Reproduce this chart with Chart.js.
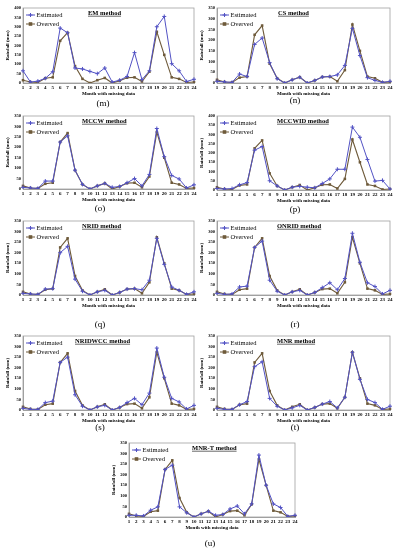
<!DOCTYPE html>
<html>
<head>
<meta charset="utf-8">
<script src="https://cdn.jsdelivr.net/npm/chart.js@4.4.0/dist/chart.umd.min.js"></script>
<style>
  body { margin: 0; background: #fff; width: 394px; height: 550px; position: relative; overflow: hidden; font-family: "Liberation Serif", serif; }
  .box { position: absolute; }
  .cap { position: absolute; font-size: 9px; transform: translateX(-50%); line-height: 10px; }
</style>
</head>
<body>
<script>
const months = ["1","2","3","4","5","6","7","8","9","10","11","12","13","14","15","16","17","18","19","20","21","22","23","24"];
const observed = [15, 5, 3, 25, 30, 225, 268, 90, 22, 0, 15, 27, 0, 12, 28, 30, 8, 60, 273, 150, 30, 22, 3, 5];

const estEM      = [65, 5, 10, 25, 60, 293, 268, 80, 75, 62, 50, 80, 5, 15, 35, 162, 18, 65, 300, 355, 103, 65, 8, 20];
const estCS      = [8, 5, 3, 42, 30, 180, 210, 95, 20, 0, 15, 27, 0, 12, 28, 30, 38, 82, 255, 128, 25, 12, 3, 8];
const estMCCW    = [8, 5, 3, 38, 38, 225, 255, 90, 22, 0, 15, 27, 8, 12, 30, 50, 15, 70, 290, 155, 65, 48, 5, 20];
const estMCCWID  = [8, 5, 8, 28, 40, 215, 235, 50, 22, 0, 15, 20, 15, 12, 35, 60, 112, 112, 340, 285, 165, 48, 52, 5];
const estNRID    = [8, 5, 3, 28, 30, 200, 230, 75, 18, 0, 15, 22, 0, 12, 28, 30, 25, 70, 268, 145, 38, 22, 3, 15];
const estONRID   = [8, 3, 5, 38, 42, 225, 255, 70, 18, 0, 15, 22, 0, 12, 35, 58, 25, 78, 292, 155, 58, 40, 5, 22];
const estNRIDWCC = [8, 3, 3, 35, 42, 225, 250, 72, 18, 0, 15, 22, 0, 12, 35, 55, 25, 80, 293, 155, 55, 38, 5, 22];
const estMNR     = [8, 3, 3, 25, 40, 205, 228, 55, 18, 0, 10, 22, 0, 12, 28, 40, 10, 60, 273, 145, 50, 35, 3, 18];
const estMNRT    = [8, 8, 5, 32, 48, 225, 245, 48, 20, 0, 15, 27, 8, 12, 38, 52, 15, 62, 293, 150, 62, 45, 3, 8];

const seriesNames = ["Estimated", "Overved"];
const yMaxes = [400, 350, 350, 400, 350, 350, 350, 350, 350];

const EST_COLOR = "#5252c4";
const OBS_COLOR = "#6e5a3a";

const panels = [
  { cap: "(m)", title: "EM method",      est: estEM,      l: 23,  r: 196, t: 8,   b: 83,  tx: 65, capX: 103, capY: 98 },
  { cap: "(n)", title: "CS method",      est: estCS,      l: 217, r: 392, t: 8,   b: 83,  tx: 61, capX: 295, capY: 95 },
  { cap: "(o)", title: "MCCW method",    est: estMCCW,    l: 23,  r: 196, t: 116, b: 189, tx: 59, capX: 100, capY: 203 },
  { cap: "(p)", title: "MCCWID method",  est: estMCCWID,  l: 217, r: 392, t: 116, b: 190, tx: 60, capX: 295, capY: 204 },
  { cap: "(q)", title: "NRID method",    est: estNRID,    l: 23,  r: 196, t: 221, b: 295, tx: 59, capX: 100, capY: 319 },
  { cap: "(r)", title: "ONRID method",   est: estONRID,   l: 217, r: 392, t: 221, b: 295, tx: 60, capX: 295, capY: 319 },
  { cap: "(s)", title: "NRIDWCC method", est: estNRIDWCC, l: 23,  r: 196, t: 336, b: 410, tx: 52, capX: 100, capY: 422 },
  { cap: "(t)", title: "MNR method",     est: estMNR,     l: 217, r: 392, t: 336, b: 410, tx: 60, capX: 295, capY: 422 },
  { cap: "(u)", title: "MNR-T method",   est: estMNRT,    l: 129, r: 297, t: 443, b: 517, tx: 63, capX: 210, capY: 538 }
];

const FONT = '"Liberation Serif", serif';

const decor = {
  id: "decor",
  beforeDatasetsDraw(chart) {
    const { ctx, chartArea: a } = chart;
    ctx.save();
    ctx.strokeStyle = "#a0a0a0";
    ctx.lineWidth = 0.8;
    ctx.strokeRect(a.left, a.top, a.right - a.left, a.bottom - a.top);
    ctx.restore();
  },
  afterDraw(chart, args, o) {
    const { ctx, chartArea: a } = chart;
    ctx.save();
    // in-plot title, underlined
    ctx.fillStyle = "#000";
    ctx.font = "bold 6.5px " + FONT;
    ctx.textBaseline = "middle";
    ctx.textAlign = "left";
    const tx = a.left + o.tx;
    const ty = a.top + 5;
    ctx.fillText(o.title, tx, ty);
    const w = ctx.measureText(o.title).width;
    ctx.strokeStyle = "#000";
    ctx.lineWidth = 0.6;
    ctx.beginPath();
    ctx.moveTo(tx, ty + 3.2);
    ctx.lineTo(tx + w, ty + 3.2);
    ctx.stroke();

    // legend
    ctx.font = "6.5px " + FONT;
    const rows = [
      { c: EST_COLOR, y: a.top + 7, mk: "plus" },
      { c: OBS_COLOR, y: a.top + 16, mk: "rect" }
    ];
    rows.forEach((row, i) => {
      const x0 = a.left + 3, x1 = a.left + 12;
      ctx.strokeStyle = row.c;
      ctx.fillStyle = row.c;
      ctx.lineWidth = 1;
      ctx.beginPath();
      ctx.moveTo(x0, row.y);
      ctx.lineTo(x1, row.y);
      ctx.stroke();
      const mx = (x0 + x1) / 2;
      if (row.mk === "rect") {
        ctx.fillRect(mx - 1.8, row.y - 1.8, 3.6, 3.6);
      } else {
        ctx.beginPath();
        ctx.moveTo(mx - 2, row.y); ctx.lineTo(mx + 2, row.y);
        ctx.moveTo(mx, row.y - 2); ctx.lineTo(mx, row.y + 2);
        ctx.stroke();
      }
      ctx.fillStyle = "#000";
      ctx.fillText(seriesNames[i], x1 + 1.5, row.y);
    });

    // axis titles
    ctx.font = "bold 5px " + FONT;
    ctx.textAlign = "center";
    ctx.fillText("Month with missing data", (a.left + a.right) / 2, a.bottom + 11);
    ctx.translate(a.left - 15, (a.top + a.bottom) / 2);
    ctx.rotate(-Math.PI / 2);
    ctx.fillText("Rainfall (mm)", 0, 0);
    ctx.restore();
  }
};

panels.forEach((p, idx) => {
  const padTop = 6, yW = 23, padR = 3, xH = 16;
  const box = document.createElement("div");
  box.className = "box";
  box.style.left = (p.l - yW) + "px";
  box.style.top = (p.t - padTop) + "px";
  box.style.width = (p.r - p.l + yW + padR) + "px";
  box.style.height = (p.b - p.t + padTop + xH) + "px";
  const cv = document.createElement("canvas");
  box.appendChild(cv);
  document.body.appendChild(box);

  const cap = document.createElement("div");
  cap.className = "cap";
  cap.style.left = p.capX + "px";
  cap.style.top = p.capY + "px";
  cap.textContent = p.cap;
  document.body.appendChild(cap);

  new Chart(cv, {
    type: "line",
    data: {
      labels: months,
      datasets: [
        {
          label: seriesNames[0],
          data: p.est,
          borderColor: EST_COLOR,
          backgroundColor: EST_COLOR,
          borderWidth: 1,
          pointStyle: "cross",
          pointRadius: 2,
          pointBorderWidth: 1,
          tension: 0
        },
        {
          label: seriesNames[1],
          data: observed,
          borderColor: OBS_COLOR,
          backgroundColor: OBS_COLOR,
          borderWidth: 1.1,
          pointStyle: "rect",
          pointRadius: 1.8,
          pointBorderWidth: 0,
          tension: 0
        }
      ]
    },
    options: {
      responsive: true,
      maintainAspectRatio: false,
      animation: false,
      devicePixelRatio: 1,
      layout: { padding: { top: padTop, right: padR, left: 0, bottom: 0 } },
      plugins: {
        legend: { display: false },
        tooltip: { enabled: false },
        decor: { title: p.title, tx: p.tx }
      },
      scales: {
        x: {
          offset: false,
          grid: { display: false, drawTicks: false, tickLength: 0 },
          border: { display: true, color: "#a0a0a0" },
          ticks: {
            autoSkip: false, maxRotation: 0, padding: 2,
            color: "#000",
            font: { family: FONT, size: 5, weight: "bold" }
          },
          afterFit: (s) => { s.height = xH; }
        },
        y: {
          min: 0,
          max: yMaxes[idx],
          grid: { display: false, drawTicks: false, tickLength: 0 },
          border: { display: true, color: "#a0a0a0" },
          ticks: {
            stepSize: 50, padding: 2,
            color: "#000",
            font: { family: FONT, size: 4.5, weight: "bold" }
          },
          afterFit: (s) => { s.width = yW; }
        }
      }
    },
    plugins: [decor]
  });
});
</script>
</body>
</html>
